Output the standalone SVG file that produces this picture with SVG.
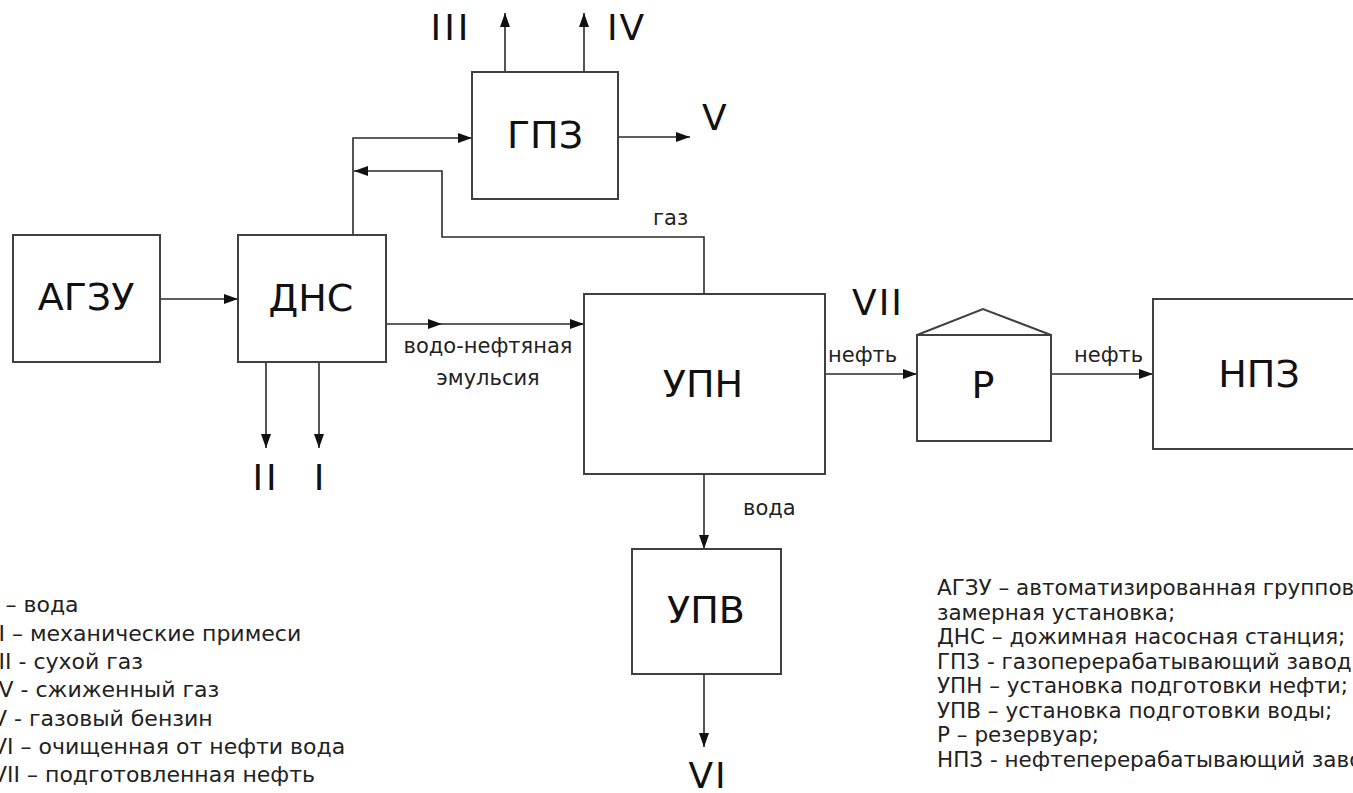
<svg xmlns="http://www.w3.org/2000/svg" width="1353" height="793" viewBox="0 0 1353 793">
<style>
  .box { fill: #ffffff; stroke: #404040; stroke-width: 2; }
  .con { fill: none; stroke: #2a2a2a; stroke-width: 1.6; }
  .big { font-family: "DejaVu Sans", Verdana, sans-serif; font-size: 38px; fill: #111; text-anchor: middle; }
  .num { font-family: "DejaVu Sans", Verdana, sans-serif; font-size: 36px; fill: #111; }
  .lbl { font-family: "DejaVu Sans", Verdana, sans-serif; font-size: 21px; fill: #222; }
  .leg { font-family: "DejaVu Sans", Verdana, sans-serif; font-size: 22px; fill: #222; }
  .legr { font-family: "DejaVu Sans", Verdana, sans-serif; font-size: 21.5px; fill: #222; }
</style>
<defs>
  <marker id="arr" viewBox="0 0 14 10" refX="14" refY="5" markerWidth="14" markerHeight="10" markerUnits="userSpaceOnUse" orient="auto">
    <path d="M0,0 L14,5 L0,10 Z" fill="#111"/>
  </marker>
</defs>
<rect width="1353" height="793" fill="#ffffff"/>

<g id="connectors">
  <path class="con" d="M160,299 H238" marker-end="url(#arr)"/>
  <path class="con" d="M353,235 V138 H472" marker-end="url(#arr)"/>
  <path class="con" d="M704,294 V237 H442 V171 H354" marker-end="url(#arr)"/>
  <path class="con" d="M386,324 L442,324 L584,324" marker-mid="url(#arr)" marker-end="url(#arr)"/>
  <path class="con" d="M266,362 V448" marker-end="url(#arr)"/>
  <path class="con" d="M319,362 V448" marker-end="url(#arr)"/>
  <path class="con" d="M505,72 V13" marker-end="url(#arr)"/>
  <path class="con" d="M584,72 V13" marker-end="url(#arr)"/>
  <path class="con" d="M618,137 H690" marker-end="url(#arr)"/>
  <path class="con" d="M825,374 H917" marker-end="url(#arr)"/>
  <path class="con" d="M1051,374 H1153" marker-end="url(#arr)"/>
  <path class="con" d="M704,474 V549" marker-end="url(#arr)"/>
  <path class="con" d="M704,674 V747" marker-end="url(#arr)"/>
</g>

<g id="node-agzu">
  <rect class="box" x="13" y="235" width="147" height="127"/>
  <text class="big" x="86" y="310">АГЗУ</text>
</g>
<g id="node-dns">
  <rect class="box" x="238" y="235" width="148" height="127"/>
  <text class="big" x="311" y="311">ДНС</text>
</g>
<g id="node-gpz">
  <rect class="box" x="472" y="72" width="146" height="127"/>
  <text class="big" x="545" y="148">ГПЗ</text>
</g>
<g id="node-upn">
  <rect class="box" x="584" y="294" width="241" height="180"/>
  <text class="big" x="703" y="397">УПН</text>
</g>
<g id="node-r">
  <rect class="box" x="917" y="335" width="134" height="106"/>
  <polyline fill="none" stroke="#404040" stroke-width="2" points="917,335 983,309 1051,335"/>
  <text class="big" x="983" y="398">Р</text>
</g>
<g id="node-npz">
  <rect class="box" x="1153" y="299" width="230" height="150"/>
  <text class="big" x="1259" y="387">НПЗ</text>
</g>
<g id="node-upv">
  <rect class="box" x="632" y="549" width="149" height="125"/>
  <text class="big" x="706" y="623">УПВ</text>
</g>

<g id="stream-labels">
  <text class="num" x="451" y="40" text-anchor="middle" letter-spacing="3">III</text>
  <text class="num" x="607" y="40" letter-spacing="2">IV</text>
  <text class="num" x="702" y="130">V</text>
  <text class="num" x="266" y="490" text-anchor="middle" letter-spacing="3">II</text>
  <text class="num" x="319" y="490" text-anchor="middle">I</text>
  <text class="num" x="708" y="788" text-anchor="middle" letter-spacing="2">VI</text>
  <text class="num" x="852" y="315" letter-spacing="2">VII</text>
  <text class="lbl" x="653" y="225">газ</text>
  <text class="lbl" x="828" y="362">нефть</text>
  <text class="lbl" x="1074" y="362">нефть</text>
  <text class="lbl" x="743" y="515">вода</text>
  <text class="lbl" x="488" y="353" text-anchor="middle">водо-нефтяная</text>
  <text class="lbl" x="488" y="385" text-anchor="middle">эмульсия</text>
</g>

<g id="legend-left">
  <text class="leg" x="-8" y="612">I – вода</text>
  <text class="leg" x="-8" y="641">II – механические примеси</text>
  <text class="leg" x="-8" y="669">III - сухой газ</text>
  <text class="leg" x="-8" y="697">IV - сжиженный газ</text>
  <text class="leg" x="-8" y="726">V - газовый бензин</text>
  <text class="leg" x="-8" y="754">VI – очищенная от нефти вода</text>
  <text class="leg" x="-8" y="782">VII – подготовленная нефть</text>
</g>

<g id="legend-right">
  <text class="legr" x="937" y="595">АГЗУ – автоматизированная групповая</text>
  <text class="legr" x="937" y="620">замерная установка;</text>
  <text class="legr" x="937" y="644">ДНС – дожимная насосная станция;</text>
  <text class="legr" x="937" y="669">ГПЗ - газоперерабатывающий завод;</text>
  <text class="legr" x="937" y="693">УПН – установка подготовки нефти;</text>
  <text class="legr" x="937" y="718">УПВ – установка подготовки воды;</text>
  <text class="legr" x="937" y="742">Р – резервуар;</text>
  <text class="legr" x="937" y="767">НПЗ - нефтеперерабатывающий завод</text>
</g>
</svg>
